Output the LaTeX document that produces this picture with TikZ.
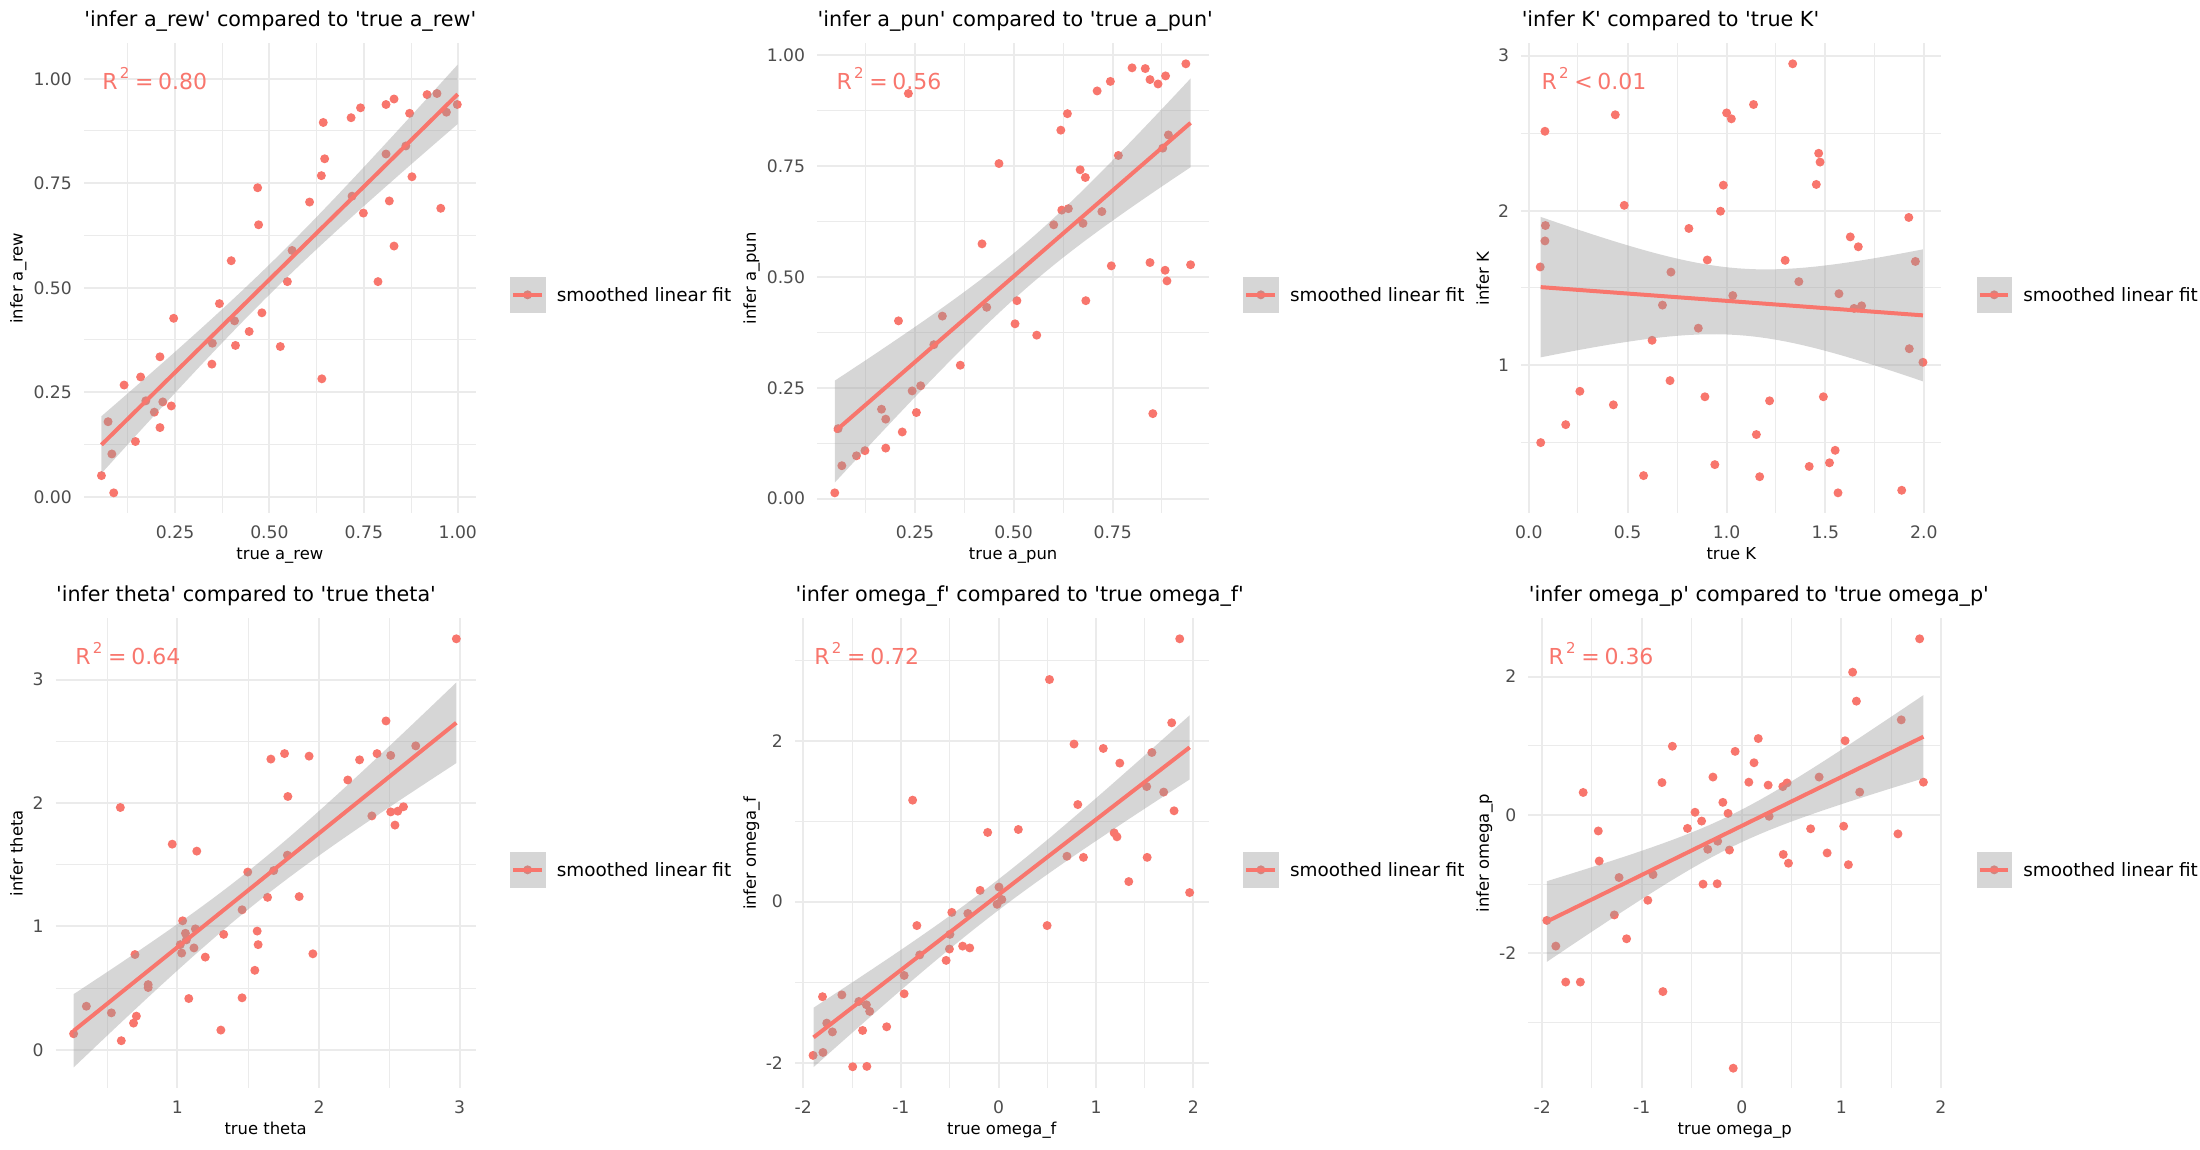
\documentclass[tikz,border=0pt]{standalone}
\usepackage{fontspec}
\setmainfont{DejaVu Sans}
\usepackage{xcolor}
\usepackage{tikz}
\usetikzlibrary{calc}

\definecolor{fitred}{HTML}{F8766D}
\definecolor{gridgrey}{HTML}{EBEBEB}
\definecolor{bandgrey}{HTML}{999999}
\definecolor{ticktext}{HTML}{4D4D4D}

% R^2 label
\newcommand{\rsqtext}[2]{R\hspace{1.1pt}\raisebox{5.5pt}{\fontsize{7.5}{8}\selectfont 2}\hspace{2.85pt}#1\hspace{2.35pt}#2}
\newcommand{\q}{\textquotesingle}
% confidence band + fit line: x0,y0,x1,y1,xc,h0^2/100,k/100
\newcommand{\confband}[7]{%
  \fill[band] plot[domain=#1:#3, samples=40] (\x,{#2+((#4-#2)/(#3-#1))*(\x-#1)-10*sqrt(#6+#7*((\x-#5)/100)^2)})
    -- plot[domain=#3:#1, samples=40] (\x,{#2+((#4-#2)/(#3-#1))*(\x-#1)+10*sqrt(#6+#7*((\x-#5)/100)^2)}) -- cycle;
  \draw[fitline] (#1,#2) -- (#3,#4);}
% legend key: box left, name
\newcommand{\fitkey}[2]{%
  \node[dot] (#2) at (#1+37,804) {};
  \fill[band] (#1,756) rectangle (#1+75,853);
  \draw[fitline] (#1+6,804) -- (#1+67,804);
  \node[keytext] (#2txt) at (#1+98,823) {smoothed linear fit};}

\begin{document}
\begin{tikzpicture}[x=0.5pt, y=-0.5pt,
    dot/.style={circle, fill=fitred, inner sep=0pt, minimum size=4.5pt},
    band/.style={fill=bandgrey, fill opacity=0.4},
    fitline/.style={fitred, line width=2pt},
    majorgrid/.style={gridgrey, line width=1pt},
    minorgrid/.style={gridgrey, line width=0.5pt},
    ticklab/.style={text=ticktext, font=\fontsize{8.6}{10}\selectfont, inner sep=0pt},
    axlab/.style={font=\fontsize{8.2}{10}\selectfont, inner sep=0pt, anchor=base},
    ptitle/.style={font=\fontsize{10.35}{12}\selectfont, inner sep=0pt, anchor=base west},
    rsq/.style={text=fitred, font=\fontsize{11}{13}\selectfont, inner sep=0pt, anchor=base west},
    keytext/.style={font=\fontsize{9.2}{11}\selectfont, inner sep=0pt, anchor=base west},
    zoomed/.style={xscale=0.4719, yscale=0.3667}]
    \useasboundingbox (0,0) rectangle (2200,1150);

    %A_REW
    \begin{scope}[shift={(0,0)}, zoomed]
    \foreach \gx in {271,471,671,871} \draw[minorgrid] (\gx,118) -- (\gx,1400);
    \foreach \gy in {357,642,927,1212} \draw[minorgrid] (178,\gy) -- (1008,\gy);
    \foreach \gx in {371,571,771,970} \draw[majorgrid] (\gx,118) -- (\gx,1400);
    \foreach \gy in {215,499,785,1070,1356} \draw[majorgrid] (178,\gy) -- (1008,\gy);
    \foreach \gy/\lab in {215/1.00,499/0.75,785/0.50,1070/0.25,1356/0.00}
        \node[ticklab, anchor=east] (rewy\gy) at (153,\gy) {\lab};
    \foreach \gx/\lab in {371/0.25,571/0.50,771/0.75,970/1.00}
        \node[ticklab, anchor=north] (rewx\gx) at (\gx,1433) {\lab};
    \foreach \px/\py [count=\i] in {215/1297,229/1150,237/1238,241/1344,263/1050,287/1204,298/1028,309/1093,327/1124,339/973,339/1166,345/1096,363/1107,368/868,449/993,450/936,465/828,490/711,497/875,499/942,528/904,546/512,548/613,555/853,594/945,609/768,619/683,656/551,681/479,682/1033,685/334,688/433,744/321,746/535,764/294,770/581,801/768,818/285,818/420,825/548,835/270,835/671,860/398,868/309,873/482,905/258,926/255,934/568,946/306,969/285}
        \node[dot] (rew\i) at (\px,\py) {};
    \confband{215}{1213}{970}{257}{582.8}{16.81}{3.255}
    \fitkey{1081}{rewkey}
    \node[ptitle] (rewtitle) at (178,71) {\q infer a\_rew\q{} compared to \q true a\_rew\q};
    \node[rsq] (rewr2) at (216,244) {\rsqtext{=}{0.80}};
    \node[axlab] (rewxlab) at (593,1525) {true a\_rew};
    \node[axlab, rotate=90] (rewylab) at (48,759) {infer a\_rew};
    \end{scope}

    %A_PUN
    \begin{scope}[shift={(730,0)}, zoomed]
    \foreach \gx in {287,497,706,915} \draw[minorgrid] (\gx,118) -- (\gx,1400);
    \foreach \gy in {301,604,907,1209} \draw[minorgrid] (185,\gy) -- (1015,\gy);
    \foreach \gx in {392,601,811} \draw[majorgrid] (\gx,118) -- (\gx,1400);
    \foreach \gy in {150,453,756,1058,1360} \draw[majorgrid] (185,\gy) -- (1015,\gy);
    \foreach \gy/\lab in {150/1.00,453/0.75,756/0.50,1058/0.25,1360/0.00}
        \node[ticklab, anchor=east] (puny\gy) at (160,\gy) {\lab};
    \foreach \gx/\lab in {392/0.25,601/0.50,811/0.75}
        \node[ticklab, anchor=north] (punx\gx) at (\gx,1433) {\lab};
    \foreach \px/\py [count=\i] in {222/1344,229/1169,237/1270,268/1243,286/1229,321/1116,330/1143,330/1222,357/875,365/1178,378/255,386/1066,395/1125,404/1052,432/940,450/862,488/996,534/665,544/838,570/446,604/883,608/820,650/914,686/613,701/355,703/573,715/310,717/569,742/463,748/609,753/484,754/820,778/248,788/577,806/222,808/725,823/424,852/185,880/187,890/217,890/716,896/1128,907/229,917/404,922/737,923/207,926/766,929/368,966/174,976/722}
        \node[dot] (pun\i) at (\px,\py) {};
    \confband{222}{1177}{976}{335}{632.7}{38.44}{9.16}
    \fitkey{1088}{punkey}
    \node[ptitle] (puntitle) at (185,71) {\q infer a\_pun\q{} compared to \q true a\_pun\q};
    \node[rsq] (punr2) at (225,244) {\rsqtext{=}{0.56}};
    \node[axlab] (punxlab) at (600,1525) {true a\_pun};
    \node[axlab, rotate=90] (punylab) at (55,759) {infer a\_pun};
    \end{scope}

    %K
    \begin{scope}[shift={(1460,0)}, zoomed]
    \foreach \gx in {250,460,669,878} \draw[minorgrid] (\gx,118) -- (\gx,1400);
    \foreach \gy in {363,785,1207} \draw[minorgrid] (130,\gy) -- (1020,\gy);
    \foreach \gx in {146,355,565,774,983} \draw[majorgrid] (\gx,118) -- (\gx,1400);
    \foreach \gy in {152,575,996} \draw[majorgrid] (130,\gy) -- (1020,\gy);
    \foreach \gy/\lab in {152/3,575/2,996/1}
        \node[ticklab, anchor=east] (Ky\gy) at (105,\gy) {\lab};
    \foreach \gx/\lab in {146/0.0,355/0.5,565/1.0,774/1.5,983/2.0}
        \node[ticklab, anchor=north] (Kx\gx) at (\gx,1433) {\lab};
    \foreach \px/\py [count=\i] in {170/728,171/1207,180/358,180/657,181/615,224/1158,254/1067,325/1104,329/313,348/560,389/1297,407/928,429/832,445/1038,447/742,485/623,505/895,519/1082,524/709,540/1267,552/576,558/505,565/308,575/324,578/806,622/285,628/1185,635/1300,656/1093,689/710,705/174,718/768,740/1272,755/503,760/418,763/442,770/1082,783/1262,795/1228,801/1344,803/801,827/646,835/841,844/673,851/834,936/1337,951/593,952/951,965/713,981/988}
        \node[dot] (K\i) at (\px,\py) {};
    \confband{171}{783}{981}{860}{592.5}{82.81}{15.98}
    \fitkey{1095}{Kkey}
    \node[ptitle] (Ktitle) at (130,71) {\q infer K\q{} compared to \q true K\q};
    \node[rsq] (Kr2) at (172,244) {\rsqtext{<}{0.01}};
    \node[axlab] (Kxlab) at (575,1525) {true K};
    \node[axlab, rotate=90] (Kylab) at (61,759) {infer K};
    \end{scope}

    %THETA
    \begin{scope}[shift={(0,575)}, zoomed]
    \foreach \gx in {228,526,825} \draw[minorgrid] (\gx,118) -- (\gx,1400);
    \foreach \gy in {453,789,1127} \draw[minorgrid] (118,\gy) -- (1008,\gy);
    \foreach \gx in {376,676,974} \draw[majorgrid] (\gx,118) -- (\gx,1400);
    \foreach \gy in {285,621,958,1295} \draw[majorgrid] (118,\gy) -- (1008,\gy);
    \foreach \gy/\lab in {285/3,621/2,958/1,1295/0}
        \node[ticklab, anchor=east] (thetay\gy) at (93,\gy) {\lab};
    \foreach \gx/\lab in {376/1,676/2,974/3}
        \node[ticklab, anchor=north] (thetax\gx) at (\gx,1433) {\lab};
    \foreach \px/\py [count=\i] in {156/1251,183/1176,236/1194,255/634,257/1270,283/1222,286/1035,289/1203,314/1117,314/1125,365/734,382/1008,385/1031,387/943,393/977,395/995,400/1155,411/1017,414/965,417/753,435/1042,468/1241,474/980,513/913,513/1153,525/810,540/1078,545/971,547/1008,567/879,574/502,580/806,603/487,609/764,610/604,634/877,655/494,663/1033,737/559,762/504,788/657,799/487,818/398,828/646,828/492,837/682,843/644,855/632,881/466,967/174}
        \node[dot] (theta\i) at (\px,\py) {};
    \confband{156}{1243}{967}{403}{535.9}{27.04}{5.055}
    \fitkey{1081}{thetakey}
    \node[ptitle] (thetatitle) at (118,71) {\q infer theta\q{} compared to \q true theta\q};
    \node[rsq] (thetar2) at (159,244) {\rsqtext{=}{0.64}};
    \node[axlab] (thetaxlab) at (563,1525) {true theta};
    \node[axlab, rotate=90] (thetaylab) at (48,759) {infer theta};
    \end{scope}

    %OMEGA_F
    \begin{scope}[shift={(730,575)}, zoomed]
    \foreach \gx in {259,466,673,879} \draw[minorgrid] (\gx,118) -- (\gx,1400);
    \foreach \gy in {234,672,1111} \draw[minorgrid] (138,\gy) -- (1015,\gy);
    \foreach \gx in {155,362,569,776,982} \draw[majorgrid] (\gx,118) -- (\gx,1400);
    \foreach \gy in {453,891,1330} \draw[majorgrid] (138,\gy) -- (1015,\gy);
    \foreach \gy/\lab in {453/2,891/0,1330/-2}
        \node[ticklab, anchor=east] (omfy\gy) at (113,\gy) {\lab};
    \foreach \gx/\lab in {155/-2,362/-1,569/0,776/1,982/2}
        \node[ticklab, anchor=north] (omfx\gx) at (\gx,1433) {\lab};
    \foreach \px/\py [count=\i] in {176/1310,196/1150,197/1302,205/1222,217/1246,237/1145,260/1341,273/1163,281/1242,289/1172,290/1340,296/1190,332/1232,369/1142,369/1092,396/956,402/1036,387/614,458/1051,465/1020,466/980,470/920,493/1012,504/923,508/1017,530/860,546/702,566/898,570/851,576/885,611/694,672/956,677/285,714/767,729/461,737/626,749/770,791/473,814/703,820/714,826/513,845/836,883/577,884/770,894/484,919/592,936/403,941/643,953/174,974/866}
        \node[dot] (omf\i) at (\px,\py) {};
    \confband{177}{1261}{974}{470}{555}{17.64}{3.357}
    \fitkey{1088}{omfkey}
    \node[ptitle] (omftitle) at (138,71) {\q infer omega\_f\q{} compared to \q true omega\_f\q};
    \node[rsq] (omfr2) at (178,244) {\rsqtext{=}{0.72}};
    \node[axlab] (omfxlab) at (576,1525) {true omega\_f};
    \node[axlab, rotate=90] (omfylab) at (55,759) {infer omega\_f};
    \end{scope}

    %OMEGA_P
    \begin{scope}[shift={(1460,575)}, zoomed]
    \foreach \gx in {279,491,703,914} \draw[minorgrid] (\gx,118) -- (\gx,1400);
    \foreach \gy in {465,843,1220} \draw[minorgrid] (145,\gy) -- (1020,\gy);
    \foreach \gx in {174,385,597,808,1019} \draw[majorgrid] (\gx,118) -- (\gx,1400);
    \foreach \gy in {277,654,1031} \draw[majorgrid] (145,\gy) -- (1020,\gy);
    \foreach \gy/\lab in {277/2,654/0,1031/-2}
        \node[ticklab, anchor=east] (ompy\gy) at (120,\gy) {\lab};
    \foreach \gx/\lab in {174/-2,385/-1,597/0,808/1,1019/2}
        \node[ticklab, anchor=north] (ompx\gx) at (\gx,1433) {\lab};
    \foreach \px/\py [count=\i] in {184/942,203/1012,224/1110,255/1110,261/593,293/698,295/780,327/927,337/825,353/992,398/887,409/817,428/566,430/1136,450/467,482/691,498/647,512/671,515/843,525/748,536/551,545/842,546/726,557/620,568/650,571/750,579/1345,583/481,612/565,623/512,632/446,653/573,655/658,684/577,685/762,693/567,696/786,743/692,761/551,778/758,813/685,816/452,823/790,832/265,840/344,847/592,928/706,935/395,974/174,982/565}
        \node[dot] (omp\i) at (\px,\py) {};
    \confband{184}{945}{982}{441}{575.6}{19.36}{6.628}
    \fitkey{1095}{ompkey}
    \node[ptitle] (omptitle) at (145,71) {\q infer omega\_p\q{} compared to \q true omega\_p\q};
    \node[rsq] (ompr2) at (187,244) {\rsqtext{=}{0.36}};
    \node[axlab] (ompxlab) at (582,1525) {true omega\_p};
    \node[axlab, rotate=90] (ompylab) at (61,759) {infer omega\_p};
    \end{scope}

\end{tikzpicture}
\end{document}
